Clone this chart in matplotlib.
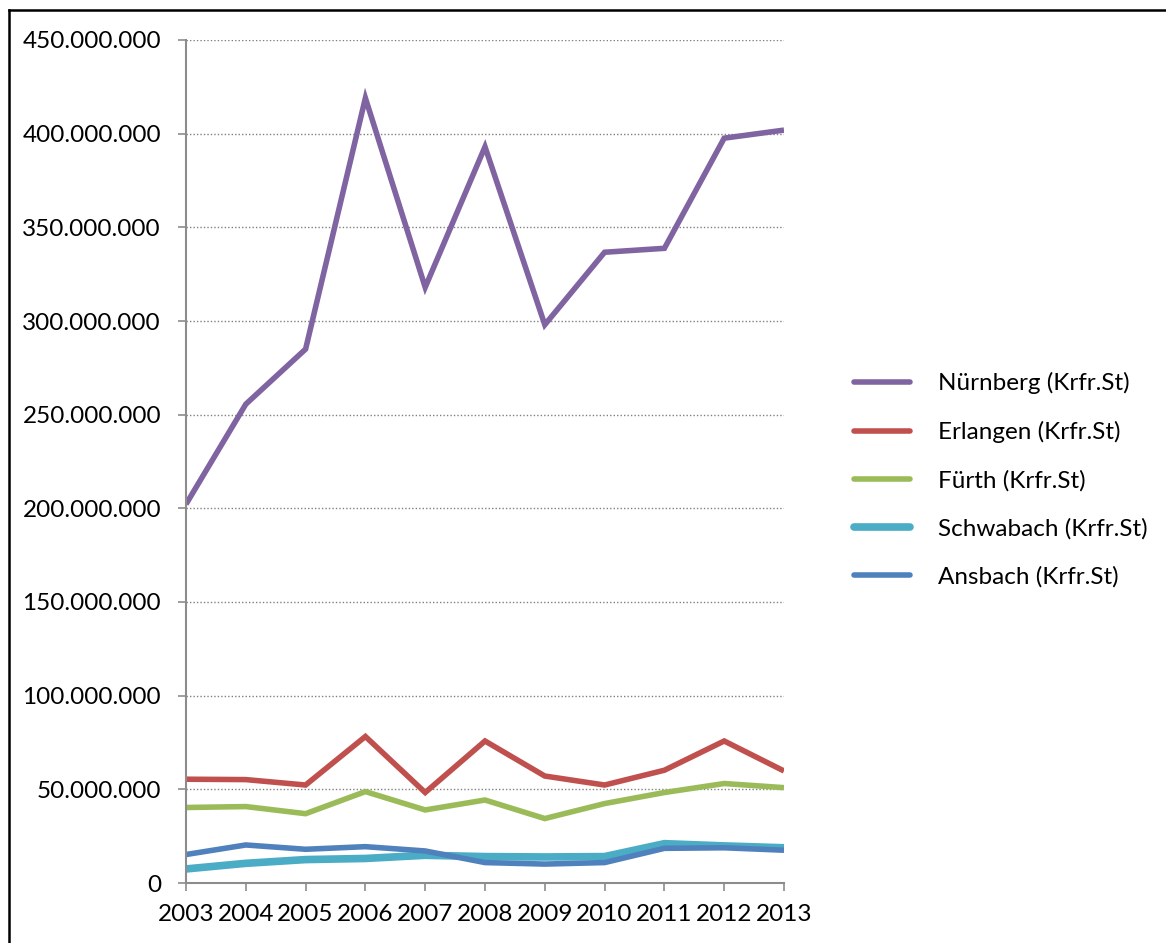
import numpy as np
import matplotlib
matplotlib.use("Agg")
import matplotlib.pyplot as plt
from matplotlib.ticker import FuncFormatter, MultipleLocator
from matplotlib.lines import Line2D

# Kreisfreie Städte, Werte je Jahr
years = [2003, 2004, 2005, 2006, 2007, 2008, 2009, 2010, 2011, 2012, 2013]
nuernberg = [202.2e6, 255.6e6, 285.0e6, 419.0e6, 318.0e6, 393.0e6, 298.0e6, 336.7e6, 338.8e6, 397.6e6, 401.9e6]
erlangen = [55.4e6, 55.2e6, 52.3e6, 78.2e6, 48.3e6, 75.8e6, 57.1e6, 52.3e6, 60.2e6, 75.8e6, 59.8e6]
fuerth = [40.3e6, 40.8e6, 37.0e6, 48.8e6, 39.0e6, 44.3e6, 34.4e6, 42.4e6, 48.3e6, 53.1e6, 50.9e6]
schwabach = [7.5e6, 10.5e6, 12.5e6, 13.1e6, 14.8e6, 14.1e6, 13.9e6, 14.1e6, 21.0e6, 19.8e6, 18.8e6]
ansbach = [15.2e6, 20.3e6, 18.0e6, 19.4e6, 17.1e6, 10.9e6, 10.1e6, 10.9e6, 18.5e6, 18.8e6, 17.5e6]

labels = ["Nürnberg (Krfr.St)", "Erlangen (Krfr.St)", "Fürth (Krfr.St)",
          "Schwabach (Krfr.St)", "Ansbach (Krfr.St)"]
series = [nuernberg, erlangen, fuerth, schwabach, ansbach]
colors = ["#8064A2", "#C0504D", "#9BBB59", "#4BACC6", "#4F81BD"]
widths = [4.0, 4.0, 4.0, 5.5, 4.0]

plt.rcParams["font.family"] = ["Lato", "DejaVu Sans"]
FS = 17.5

fig = plt.figure(figsize=(11.66, 9.43), dpi=100)
ax = fig.add_axes([186 / 1166, 1 - 883 / 943, (784 - 186) / 1166, (883 - 40) / 943])

x = np.arange(len(years))
for vals, lab, col, lw in zip(series, labels, colors, widths):
    ax.plot(x, vals, color=col, lw=lw, label=lab, solid_capstyle="butt",
            solid_joinstyle="miter")

ax.set_xlim(0, len(years) - 1)
ax.set_ylim(0, 450e6)
ax.set_xticks(x)
ax.set_xticklabels([str(y) for y in years])
ax.yaxis.set_major_locator(MultipleLocator(50e6))
ax.yaxis.set_major_formatter(FuncFormatter(lambda v, p: f"{int(v):,}".replace(",", ".")))

ax.grid(axis="y", color="#808080", linestyle=(0, (1, 1.5)), linewidth=1.0)
ax.set_axisbelow(True)
for side in ["top", "right"]:
    ax.spines[side].set_visible(False)
for side in ["left", "bottom"]:
    ax.spines[side].set_color("#8c8c8c")
    ax.spines[side].set_linewidth(1.5)
ax.tick_params(axis="y", direction="out", length=6, width=1.2, color="#8c8c8c",
               labelsize=FS, pad=12)
ax.tick_params(axis="x", direction="out", length=6, width=1.2, color="#8c8c8c",
               labelsize=FS, pad=9)
for t in ax.get_xticklabels() + ax.get_yticklabels():
    t.set_clip_on(False)

handles = [Line2D([], [], color=c, lw=lw, solid_capstyle="round")
           for c, lw in zip(colors, widths)]
fig.legend(handles, labels, loc="center left", bbox_to_anchor=(832 / 1166, 1 - 480 / 943),
           frameon=False, fontsize=FS, handlelength=2.3, handletextpad=1.15,
           labelspacing=1.1)

# Rahmen oben und links
fig.add_artist(Line2D([9 / 1166, 1], [1 - 10 / 943, 1 - 10 / 943],
                      transform=fig.transFigure, color="black", lw=1.8))
fig.add_artist(Line2D([9 / 1166, 9 / 1166], [0, 1 - 10 / 943],
                      transform=fig.transFigure, color="black", lw=1.8))

fig.savefig("out.png", dpi=100)
